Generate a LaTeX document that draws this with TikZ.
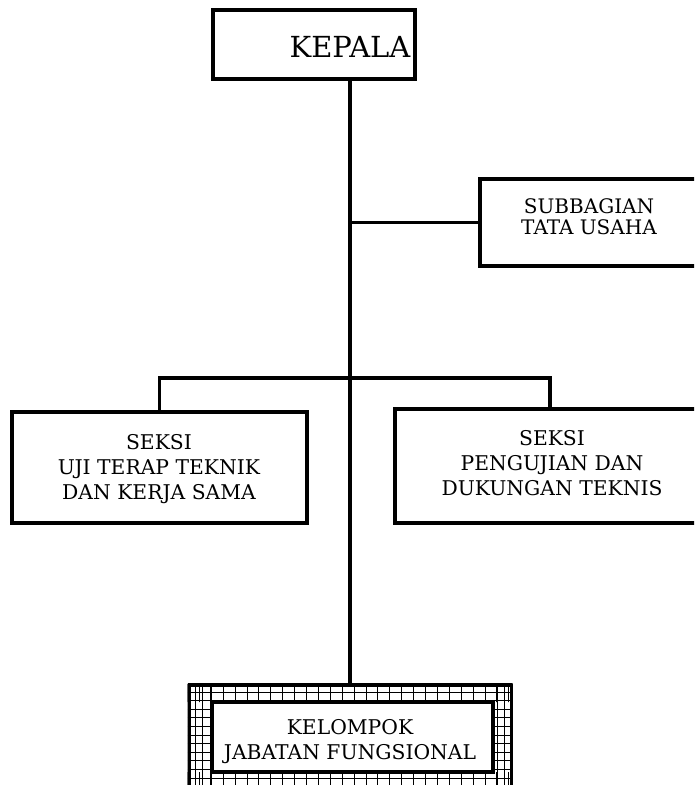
\documentclass[tikz,border=0pt]{standalone}
\usepackage{fontspec}
\setmainfont{DejaVu Serif}
\usetikzlibrary{fit}
\begin{document}
\begin{tikzpicture}[x=1pt,y=-1pt,
  box/.style={draw=black,line width=3.5pt,fill=white,inner sep=0pt,rectangle},
  conn/.style={draw=black,line width=3.2pt},
  lbl/.style={align=center,inner sep=0pt,font=\fontsize{20}{21}\selectfont},
  lblb/.style={align=center,inner sep=0pt,font=\fontsize{20.3}{25}\selectfont},
  gridline/.style={draw=black,line width=1pt}]
\useasboundingbox (0,0) rectangle (694,785);
\clip (0,0) rectangle (694,785);
% boxes
\node[box,minimum width=202pt,minimum height=69pt] (kep) at (314,44.5) {};
\node[box,minimum width=240pt,minimum height=87pt] (sub) at (600,222.5) {};
\node[box,minimum width=295pt,minimum height=111pt] (sl) at (159.5,467.5) {};
\node[box,minimum width=325pt,minimum height=114pt] (sr) at (557.5,466) {};
\node[draw=black,line width=3pt,inner sep=0pt,minimum width=322pt,minimum height=105pt] (outer) at (350,737.5) {};
\coordinate (innerNW) at (212,702);
\coordinate (innerSE) at (493,772);
% grid in outer frame: horizontal lines
\begin{scope}
  \clip (outer.north west) rectangle (outer.south east);
  \foreach \j in {0,...,15} {
    \draw[gridline] ([yshift=-\j*8.6pt]outer.north west) -- ([yshift=-\j*8.6pt]outer.north east);
  }
\end{scope}
% vertical lines in top and bottom bands
\begin{scope}
  \clip (outer.north west) rectangle (innerNW -| outer.east)
        (innerSE -| outer.west) rectangle (outer.south east);
  \foreach \i in {0,...,28} {
    \draw[gridline] ([xshift=\i*11.9pt]outer.north west) -- ([xshift=\i*11.9pt]outer.south west);
  }
\end{scope}
% vertical lines in side bands
\begin{scope}
  \clip (outer.north west) rectangle (innerNW |- outer.south)
        (innerSE |- outer.north) rectangle (outer.south east);
  \foreach \i in {0,...,3} {
    \draw[gridline] ([xshift=\i*7.6pt]outer.north west) -- ([xshift=\i*7.6pt]outer.south west);
    \draw[gridline] ([xshift=-\i*7.6pt]outer.north east) -- ([xshift=-\i*7.6pt]outer.south east);
  }
\end{scope}
\node[draw=black,line width=3pt,inner sep=0pt,minimum width=322pt,minimum height=105pt] at (outer) {};
\node[box,line width=4pt,fit=(innerNW)(innerSE)] (inner) {};
% connectors
\coordinate (rdrop) at (550,409);
\coordinate (bar) at (350,378);
\draw[conn] (kep.south -| outer.north) -- (outer.north);
\draw[conn] (sub.west) -- (sub.west -| outer.north);
\draw[conn] (sl.north) |- (bar) -| (rdrop);
% labels
\node[inner sep=0pt,font=\fontsize{29}{30}\selectfont] (tkep) at (350,47) {KEPALA};
\node[lbl] (tsub) at (589,217) {SUBBAGIAN\\TATA USAHA};
\node[lblb] (tsl) at (159,469) {SEKSI\\UJI TERAP TEKNIK\\DAN KERJA SAMA};
\node[lblb] (tsr) at (552,463) {SEKSI\\PENGUJIAN DAN\\DUKUNGAN TEKNIS};
\node[lblb] (tkel) at (350,742) {KELOMPOK\\JABATAN FUNGSIONAL};
\end{tikzpicture}
\end{document}
